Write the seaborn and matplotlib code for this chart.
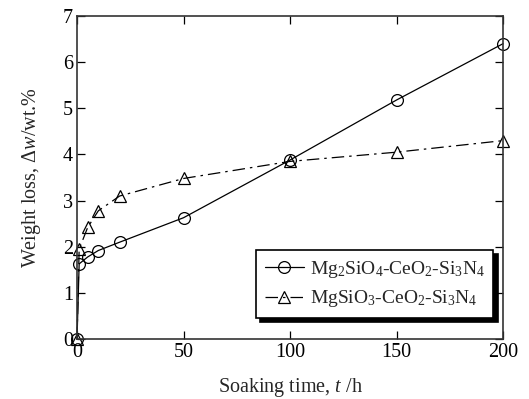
import pandas as pd
import seaborn as sns
import matplotlib.pyplot as plt

# soaking time (h) and weight loss (wt.%)
time_h = [0, 1, 5, 10, 20, 50, 100, 150, 200]
loss_mg2sio4 = [0, 1.63, 1.78, 1.92, 2.10, 2.63, 3.88, 5.18, 6.40]
loss_mgsio3 = [0, 1.95, 2.42, 2.78, 3.10, 3.48, 3.85, 4.05, 4.30]

label_a = "Mg$_2$SiO$_4$-CeO$_2$-Si$_3$N$_4$"
label_b = "MgSiO$_3$-CeO$_2$-Si$_3$N$_4$"

df_a = pd.DataFrame({"t": time_h, "w": loss_mg2sio4})
df_b = pd.DataFrame({"t": time_h, "w": loss_mgsio3})

sns.set_style("ticks")
plt.rcParams['font.family'] = ['Liberation Serif', 'DejaVu Serif']
plt.rcParams['mathtext.fontset'] = 'custom'
plt.rcParams['mathtext.rm'] = 'Liberation Serif'
plt.rcParams['mathtext.it'] = 'Liberation Serif:italic'

fig = plt.figure(figsize=(5.29, 3.99), dpi=100)
ax = fig.add_axes([0.1456, 0.150, 0.8054, 0.810])

sns.lineplot(data=df_a, x="t", y="w", ax=ax, color="black", lw=0.9,
             marker="o", markersize=8.5, markerfacecolor="none",
             markeredgecolor="black", markeredgewidth=0.9, label=label_a,
             clip_on=False)
sns.lineplot(data=df_b, x="t", y="w", ax=ax, color="black", lw=0.9,
             linestyle=(0, (10, 4, 2, 4)),
             marker="^", markersize=8.5, markerfacecolor="none",
             markeredgecolor="black", markeredgewidth=0.9, label=label_b,
             clip_on=False)

ax.set_xlim(0, 200)
ax.set_ylim(0, 7)
ax.set_xticks([0, 50, 100, 150, 200])
ax.set_yticks(range(0, 8))
ax.tick_params(direction="in", length=6, width=0.9, labelsize=14.5,
               top=True, right=True, colors="black", pad=3)
for s in ax.spines.values():
    s.set_linewidth(1.2)
    s.set_color("#333333")

ax.set_xlabel("Soaking time, $t$ /h", fontsize=14.5, labelpad=10)
ax.set_ylabel("Weight loss, $\\mathit{\\Delta w}$/wt.%", fontsize=14.5, labelpad=14)

leg = ax.legend(loc="lower right", bbox_to_anchor=(1.0, 0.035), fontsize=14,
                frameon=True, fancybox=False, edgecolor="black",
                handlelength=2.0, handletextpad=0.3, labelspacing=0.45,
                borderpad=0.45, borderaxespad=0.5,
                shadow={"color": "black", "alpha": 1, "ox": 3, "oy": -3})
leg.get_frame().set_linewidth(1.2)

plt.savefig("out.png", dpi=100)
